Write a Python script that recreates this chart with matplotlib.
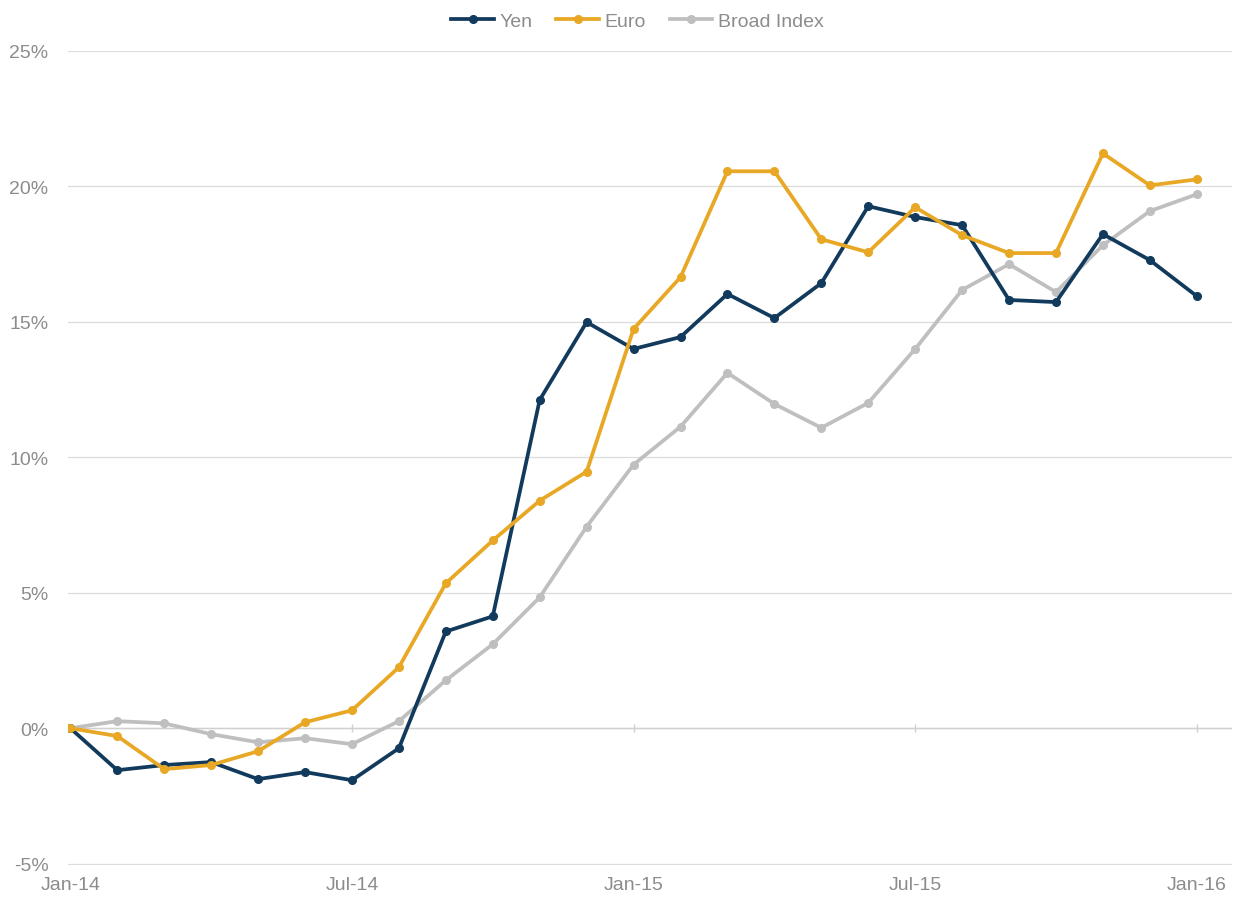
import numpy as np
import matplotlib.pyplot as plt

plt.rcParams['font.family'] = ['Liberation Sans Narrow', 'Liberation Sans', 'DejaVu Sans']

months = ['Jan-14', 'Feb-14', 'Mar-14', 'Apr-14', 'May-14', 'Jun-14', 'Jul-14', 'Aug-14',
          'Sep-14', 'Oct-14', 'Nov-14', 'Dec-14', 'Jan-15', 'Feb-15', 'Mar-15', 'Apr-15',
          'May-15', 'Jun-15', 'Jul-15', 'Aug-15', 'Sep-15', 'Oct-15', 'Nov-15', 'Dec-15', 'Jan-16']

yen = [0.0, -1.55, -1.36, -1.25, -1.88, -1.62, -1.92, -0.74, 3.57, 4.13, 12.12, 14.99,
       14.00, 14.44, 16.03, 15.14, 16.43, 19.27, 18.87, 18.57, 15.81, 15.73, 18.24, 17.28, 15.95]
euro = [0.0, -0.29, -1.51, -1.36, -0.85, 0.22, 0.66, 2.25, 5.35, 6.93, 8.40, 9.47,
        14.74, 16.65, 20.56, 20.56, 18.05, 17.57, 19.23, 18.20, 17.54, 17.54, 21.22, 20.04, 20.26]
broad = [0.0, 0.26, 0.18, -0.22, -0.52, -0.37, -0.59, 0.26, 1.77, 3.10, 4.83, 7.44,
         9.73, 11.13, 13.12, 11.97, 11.09, 12.01, 14.00, 16.18, 17.13, 16.10, 17.83, 19.09, 19.71]

tick_pos = [0, 6, 12, 18, 24]
yticks = [-5, 0, 5, 10, 15, 20, 25]

x = np.arange(len(months))

fig = plt.figure(figsize=(12.38, 9.03), dpi=100)
ax = fig.add_axes([68/1238, 1 - 866/903, (1232-68)/1238, (866-52)/903])

ax.plot(x, yen, color='#123a5d', lw=2.7, marker='o', ms=5.5, label='Yen', zorder=3)
ax.plot(x, euro, color='#e8a825', lw=2.7, marker='o', ms=5.5, label='Euro', zorder=3)
ax.plot(x, broad, color='#bfbfbf', lw=2.7, marker='o', ms=5.5, label='Broad Index', zorder=2)

ax.set_xlim(-0.05, 24.75)
ax.set_ylim(-5.05, 25)
ax.set_yticks(yticks)
ax.set_yticklabels([f'{v}%' for v in yticks])
ax.set_xticks(tick_pos)
ax.set_xticklabels([months[i] for i in tick_pos])

ax.grid(axis='y', color='#dcdcdc', lw=0.9)
ax.set_axisbelow(True)
for s in ax.spines.values():
    s.set_visible(False)
ax.axhline(0, color='#d0d0d0', lw=1.0, zorder=1)
ax.vlines(tick_pos, -0.15, 0.15, color='#d0d0d0', lw=1.0, zorder=1)

ax.tick_params(axis='both', length=0, labelsize=14, labelcolor='#8c8c8c')
ax.tick_params(axis='y', pad=14)
ax.tick_params(axis='x', pad=8)

fig.legend(loc='upper center', bbox_to_anchor=(0.515, 1.005), ncol=3, frameon=False,
           fontsize=14, labelcolor='#8c8c8c', handlelength=2.2, handletextpad=0.3,
           columnspacing=1.2)

fig.savefig('out.png', dpi=100)
